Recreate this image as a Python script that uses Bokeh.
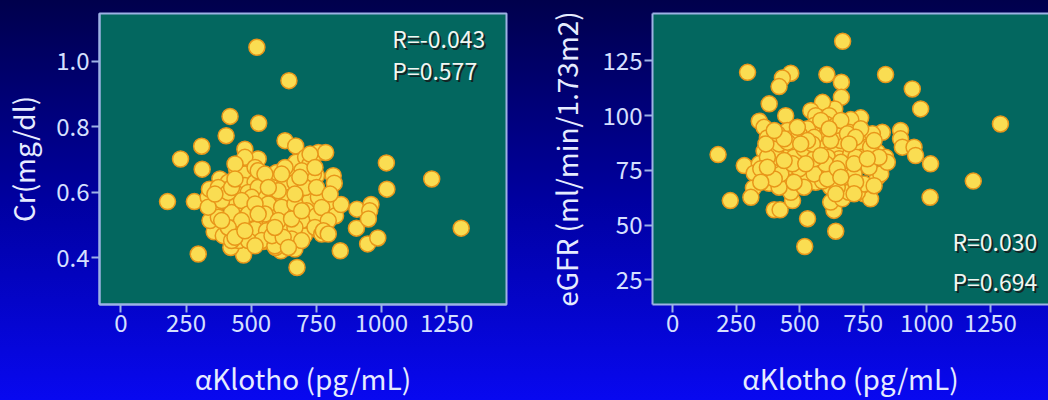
from bokeh.plotting import figure
from bokeh.layouts import row
from bokeh.models import Range1d, FixedTicker, Label, PrintfTickFormatter, GlobalInlineStyleSheet, LinearAxis
from bokeh.embed import file_html
from bokeh.resources import INLINE

# ---- data: left panel (alpha Klotho vs Cr) ----
cr_klotho = [522, 645, 419, 529, 404, 310, 229, 312, 179, 282, 297, 471, 676, 842, 904, 947, 986, 1019, 1021, 1193,
             1306, 906, 960, 955, 950, 812, 824, 815, 819, 845, 758, 786, 751, 749, 704, 668, 614, 594, 547, 422,
             453, 358, 342, 335, 340, 380, 476, 527, 476, 630, 671, 672, 709, 726, 739, 476, 444, 476, 515, 412,
             440, 476, 515, 387, 438, 489, 527, 726, 694, 643, 579, 598, 527, 572, 636, 681, 713, 527, 367, 410,
             444, 463, 502, 517, 374, 393, 444, 457, 502, 502, 425, 527, 425, 527, 559, 604, 643, 687, 726, 585,
             649, 713, 751, 527, 572, 617, 694, 745, 515, 559, 617, 668, 655, 540, 591, 438, 374, 387, 463, 566,
             617, 668, 630, 668, 553, 604, 489, 553, 604, 655, 463, 412, 489, 580, 623, 694, 707, 758, 771, 694,
             412, 335, 387, 438, 515, 476, 566, 630, 687, 617, 771, 751, 361, 425, 527, 591, 643, 515, 438, 745,
             796, 777, 668, 803, 796]
cr_value = [1.042, 0.940, 0.831, 0.810, 0.772, 0.740, 0.701, 0.670, 0.571, 0.571, 0.411, 0.408, 0.370, 0.421, 0.490,
            0.442, 0.460, 0.689, 0.609, 0.640, 0.490, 0.548, 0.562, 0.543, 0.518, 0.569, 0.528, 0.650, 0.627, 0.562,
            0.721, 0.721, 0.650, 0.487, 0.467, 0.426, 0.421, 0.431, 0.449, 0.431, 0.452, 0.479, 0.513, 0.584, 0.609,
            0.640, 0.731, 0.701, 0.665, 0.757, 0.741, 0.691, 0.706, 0.686, 0.655, 0.706, 0.670, 0.655, 0.675, 0.630,
            0.630, 0.620, 0.630, 0.604, 0.599, 0.599, 0.599, 0.716, 0.665, 0.650, 0.635, 0.660, 0.665, 0.599, 0.599,
            0.614, 0.584, 0.614, 0.564, 0.569, 0.569, 0.543, 0.584, 0.548, 0.523, 0.467, 0.513, 0.482, 0.508, 0.477,
            0.452, 0.462, 0.538, 0.558, 0.584, 0.589, 0.589, 0.584, 0.574, 0.554, 0.548, 0.543, 0.528, 0.513, 0.513,
            0.518, 0.513, 0.492, 0.487, 0.482, 0.482, 0.492, 0.457, 0.452, 0.436, 0.686, 0.614, 0.574, 0.574, 0.564,
            0.554, 0.564, 0.630, 0.630, 0.655, 0.604, 0.533, 0.533, 0.513, 0.518, 0.513, 0.492, 0.452, 0.467, 0.462,
            0.452, 0.614, 0.584, 0.553, 0.543, 0.599, 0.554, 0.513, 0.462, 0.564, 0.482, 0.614, 0.675, 0.645, 0.655,
            0.472, 0.614, 0.594, 0.614, 0.533, 0.492, 0.431, 0.436, 0.640, 0.675, 0.513, 0.482, 0.594, 0.594, 0.472]

# ---- data: right panel (alpha Klotho vs eGFR) ----
egfr_klotho = [669, 295, 465, 432, 419, 607, 664, 664, 638, 590, 838, 943, 976, 1290, 380, 445, 341, 360, 373, 360,
               179, 282, 341, 321, 318, 308, 227, 380, 400, 423, 472, 531, 520, 642, 635, 622, 668, 753, 779, 727,
               753, 675, 806, 819, 806, 838, 845, 825, 897, 897, 904, 950, 956, 1015, 1013, 1183, 740, 701, 694, 714,
               753, 760, 688, 635, 544, 563, 616, 557, 609, 603, 452, 465, 445, 511, 583, 570, 648, 655, 590, 511,
               472, 439, 406, 413, 491, 524, 531, 498, 557, 544, 609, 629, 668, 563, 531, 452, 400, 419, 662, 701,
               734, 740, 779, 786, 622, 590, 694, 465, 419, 373, 347, 426, 478, 517, 583, 635, 642, 701, 721, 714,
               648, 557, 609, 498, 452, 413, 557, 603, 662, 773, 793, 720, 517, 478, 400, 373, 367, 491, 583, 662,
               740, 793, 714, 648, 557, 472, 439, 688, 812, 347, 524, 622, 720, 550, 616, 766, 694, 662, 531, 439,
               714, 642, 583, 504, 400]
egfr_value = [134.0, 119.8, 119.4, 117.2, 113.3, 118.8, 115.3, 108.4, 103.1, 106.1, 118.8, 112.2, 103.1, 96.2, 105.4,
              100.0, 97.5, 94.7, 89.8, 83.8, 82.2, 77.2, 78.0, 73.7, 67.0, 62.7, 61.2, 69.1, 57.0, 57.0,
              61.2, 52.9, 40.2, 47.2, 56.7, 60.5, 62.0, 64.3, 62.0, 65.0, 68.8, 69.1, 71.9, 73.4, 83.3,
              81.0, 78.7, 92.4, 93.2, 89.4, 85.6, 85.6, 81.8, 78.0, 62.7, 70.1, 99.0, 98.2, 92.4, 86.3,
              90.1, 85.6, 75.7, 71.9, 102.3, 100.0, 100.0, 95.5, 91.7, 96.2, 93.2, 89.4, 82.5, 80.3, 84.8,
              77.2, 84.8, 80.3, 74.9, 70.1, 73.4, 69.6, 75.7, 81.0, 84.8, 89.4, 94.0, 91.7, 85.6, 81.0,
              81.0, 76.4, 73.4, 69.6, 73.4, 76.4, 84.1, 87.1, 88.6, 82.5, 85.6, 81.0, 85.6, 91.7, 67.3,
              70.1, 65.0, 65.0, 67.3, 81.0, 75.7, 73.4, 81.0, 84.8, 88.6, 91.7, 95.5, 88.6, 81.0, 73.4,
              67.3, 73.4, 71.1, 75.7, 87.9, 91.7, 90.1, 78.0, 78.7, 76.4, 68.0, 69.6, 67.3, 69.6, 71.1,
              76.4, 87.1, 94.7, 97.8, 97.8, 94.0, 88.6, 78.0, 75.7, 80.3, 78.0, 79.5, 91.7, 81.0, 69.6,
              78.0, 88.6, 90.1, 87.1, 94.0, 80.3, 87.1, 71.9, 88.6, 89.4, 64.3, 64.3, 81.8, 87.1, 93.2]

x_ticks = [0, 250, 500, 750, 1000, 1250]
cr_ticks = [0.4, 0.6, 0.8, 1.0]
egfr_ticks = [25, 50, 75, 100, 125]
stats_left = ["R=-0.043", "P=0.577"]
stats_right = ["R=0.030", "P=0.694"]

PANEL = "#03675f"
FRAME = "#9db2e4"
TICKTXT = "#d6e0ff"
LABTXT = "#e6ecff"
FONT = "Noto Sans CJK JP"


def style_axis(ax):
    ax.axis_line_color = FRAME
    ax.axis_line_width = 2
    ax.major_tick_line_color = FRAME
    ax.major_tick_line_width = 2
    ax.major_tick_in = 0
    ax.major_tick_out = 8
    ax.minor_tick_line_color = None
    ax.major_label_text_font = FONT
    ax.major_label_text_font_size = "24px"
    ax.major_label_text_color = TICKTXT
    ax.axis_label_text_font = FONT
    ax.axis_label_text_font_style = "normal"
    ax.axis_label_text_font_size = "28px"
    ax.axis_label_text_color = LABTXT


def style(p, xlabel, ylabel, ystand):
    p.background_fill_color = PANEL
    p.border_fill_color = None
    p.outline_line_color = FRAME
    p.outline_line_width = 2
    p.xgrid.visible = False
    p.ygrid.visible = False
    style_axis(p.xaxis[0])
    style_axis(p.yaxis[0])
    p.xaxis[0].axis_label = xlabel
    p.xaxis[0].major_label_standoff = 1
    p.xaxis[0].axis_label_standoff = 23
    p.yaxis[0].axis_label = ylabel
    p.yaxis[0].major_label_standoff = 2
    p.yaxis[0].axis_label_standoff = ystand
    p.xaxis[0].ticker = FixedTicker(ticks=x_ticks)


def add_stats(p, x, ys, texts):
    for y, t in zip(ys, texts):
        p.add_layout(Label(x=x, y=y, text=t, text_font=FONT, text_font_size="23px",
                           text_color="#142424", text_baseline="middle", x_offset=2, y_offset=-2))
        p.add_layout(Label(x=x, y=y, text=t, text_font=FONT, text_font_size="23px",
                           text_color="#f2f6f2", text_baseline="middle"))


def add_points(p, xs, ys):
    p.scatter(xs, ys, size=16, fill_color="#fadd52", line_color="#e8961a", line_width=1.5)


common = dict(output_backend="svg", toolbar_location=None, height=400)

p1 = figure(width=520, x_range=Range1d(-82, 1480), y_range=Range1d(0.257, 1.145),
            min_border_left=98, min_border_right=14, min_border_top=13, min_border_bottom=96, **common)
style(p1, "αKlotho (pg/mL)", "Cr(mg/dl)", 10)
p1.yaxis[0].ticker = FixedTicker(ticks=cr_ticks)
p1.yaxis[0].formatter = PrintfTickFormatter(format="%.1f")
add_points(p1, cr_klotho, cr_value)
add_stats(p1, 1042, [1.070, 0.972], stats_left)

p2 = figure(width=528, x_range=Range1d(-79, 1479), y_range=Range1d(13.7, 146.7),
            min_border_left=132, min_border_right=0, min_border_top=13, min_border_bottom=96, **common)
style(p2, "αKlotho (pg/mL)", "eGFR (ml/min/1.73m2)", 14)
p2.outline_line_color = None
top = LinearAxis(ticker=FixedTicker(ticks=[]), major_label_text_font_size="0px",
                 axis_line_color=FRAME, axis_line_width=2, major_tick_line_color=None,
                 minor_tick_line_color=None, major_label_standoff=0)
p2.add_layout(top, "above")
p2.yaxis[0].ticker = FixedTicker(ticks=egfr_ticks)
add_points(p2, egfr_klotho, egfr_value)
add_stats(p2, 1101, [42.5, 24.5], stats_right)

bg = GlobalInlineStyleSheet(css="html { min-height: 100%; background: linear-gradient(to bottom, #00004c 0%, #0000a0 50%, #0808f0 100%) fixed; } body { margin: 0; background: transparent; }")
layout = row(p1, p2, stylesheets=[bg])

open("out.html", "w").write(file_html(layout, INLINE))
